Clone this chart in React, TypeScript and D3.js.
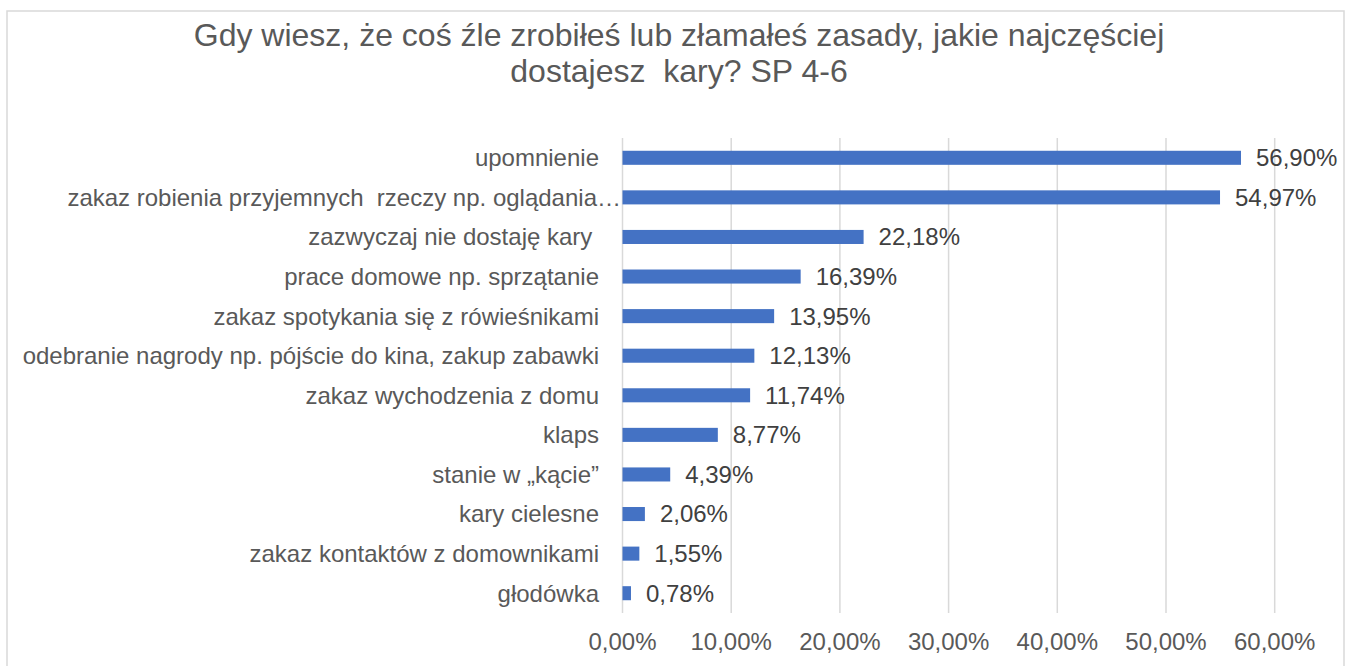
import React from "react";
import * as d3 from "d3";

const titleLines = [
  "Gdy wiesz, że coś źle zrobiłeś lub złamałeś zasady, jakie najczęściej",
  "dostajesz  kary? SP 4-6",
];

const categories = [
  "upomnienie",
  "zakaz robienia przyjemnych  rzeczy np. oglądania…",
  "zazwyczaj nie dostaję kary ",
  "prace domowe np. sprzątanie",
  "zakaz spotykania się z rówieśnikami",
  "odebranie nagrody np. pójście do kina, zakup zabawki",
  "zakaz wychodzenia z domu",
  "klaps",
  "stanie w „kącie”",
  "kary cielesne",
  "zakaz kontaktów z domownikami",
  "głodówka",
];

const values = [56.9, 54.97, 22.18, 16.39, 13.95, 12.13, 11.74, 8.77, 4.39, 2.06, 1.55, 0.78];

const ticks = [0, 10, 20, 30, 40, 50, 60];

const fmt = (v: number) => v.toFixed(2).replace(".", ",") + "%";

export default function App() {
  const W = 1349;
  const H = 666;
  const left = 622.5;
  const right = 1274.7;
  const top = 138;
  const bottom = 613;
  const x = d3.scaleLinear().domain([0, 60]).range([left, right]);
  const y = d3
    .scaleBand<string>()
    .domain(categories)
    .range([top, bottom])
    .paddingInner(0.645)
    .paddingOuter(0.3225);
  const font = "'Liberation Sans', Arial, sans-serif";
  const textColor = "#595959";

  return (
    <svg
      width={W}
      height={H}
      style={{ position: "absolute", left: 0, top: 0, background: "#fff" }}
    >
      <rect x={7} y={11} width={1337} height={670} fill="#fff" stroke="#d9d9d9" strokeWidth={1.5} />
      {titleLines.map((t, i) => (
        <text
          key={i}
          x={679}
          y={46 + i * 36}
          textAnchor="middle"
          fontFamily={font}
          fontSize={32}
          fill={textColor}
          style={{ whiteSpace: "pre" }}
        >
          {t}
        </text>
      ))}
      {ticks.map((t) => (
        <g key={t}>
          <line x1={x(t)} x2={x(t)} y1={top} y2={bottom} stroke="#d9d9d9" strokeWidth={1.5} />
          <text
            x={x(t)}
            y={649.5}
            textAnchor="middle"
            fontFamily={font}
            fontSize={24}
            fill={textColor}
          >
            {fmt(t)}
          </text>
        </g>
      ))}
      {categories.map((c, i) => {
        const yy = y(c)!;
        const bw = y.bandwidth();
        const cy = yy + bw / 2;
        const truncated = c.endsWith("…");
        return (
          <g key={c}>
            <rect x={x(0)} y={yy} width={x(values[i]) - x(0)} height={bw} fill="#4472C4" />
            <text
              x={truncated ? 621 : 599}
              y={cy}
              dy="0.35em"
              textAnchor="end"
              fontFamily={font}
              fontSize={24}
              fill={textColor}
              style={{ whiteSpace: "pre" }}
            >
              {c}
            </text>
            <text
              x={x(values[i]) + 15}
              y={cy}
              dy="0.35em"
              fontFamily={font}
              fontSize={24}
              fill="#404040"
            >
              {fmt(values[i])}
            </text>
          </g>
        );
      })}
    </svg>
  );
}
